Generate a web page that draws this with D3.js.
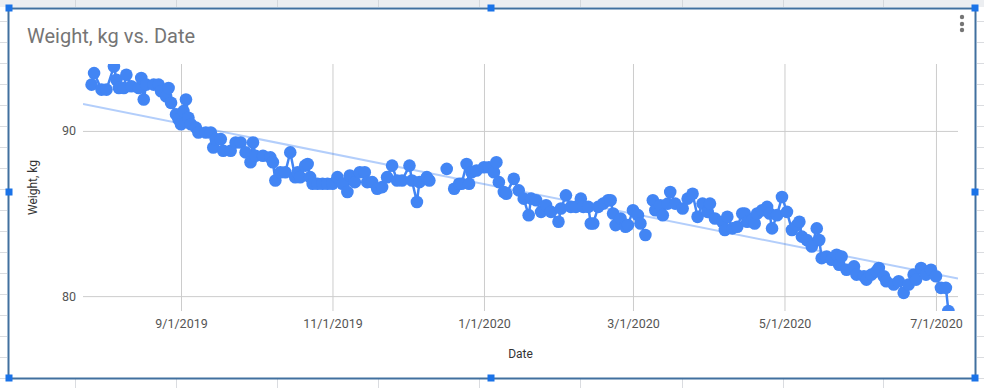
<!DOCTYPE html>
<html>
<head>
<meta charset="utf-8">
<script src="https://cdn.jsdelivr.net/npm/d3@7"></script>
<style>
  body { margin: 0; background: #fff; }
  svg { display: block; font-family: Roboto, Arial, sans-serif; }
</style>
</head>
<body>
<svg id="chart" width="984" height="388"></svg>
<script>
// dates of the weigh-ins (null weight = no line through that day)
var dates = [
  "2019-07-27","2019-07-28","2019-07-31",
  "2019-08-02","2019-08-05","2019-08-06","2019-08-07","2019-08-09","2019-08-10","2019-08-12","2019-08-15","2019-08-16","2019-08-17","2019-08-18","2019-08-21","2019-08-23","2019-08-24","2019-08-26","2019-08-27","2019-08-28","2019-08-30","2019-08-31",
  "2019-09-01","2019-09-02","2019-09-03","2019-09-04","2019-09-05","2019-09-07","2019-09-08","2019-09-11","2019-09-13","2019-09-14","2019-09-15","2019-09-17","2019-09-18","2019-09-21","2019-09-23","2019-09-25","2019-09-27","2019-09-29","2019-09-30",
  "2019-10-01","2019-10-04","2019-10-07","2019-10-08","2019-10-09","2019-10-11","2019-10-13","2019-10-15","2019-10-17","2019-10-18","2019-10-19","2019-10-21","2019-10-22","2019-10-23","2019-10-24","2019-10-26","2019-10-28","2019-10-30",
  "2019-11-01","2019-11-03","2019-11-05","2019-11-07","2019-11-08","2019-11-10","2019-11-12","2019-11-14","2019-11-15","2019-11-17","2019-11-19","2019-11-21","2019-11-23","2019-11-25","2019-11-27","2019-11-29",
  "2019-12-02","2019-12-03","2019-12-05","2019-12-06","2019-12-09","2019-12-10","2019-12-11","2019-12-17","2019-12-18","2019-12-20","2019-12-22","2019-12-23","2019-12-25","2019-12-26","2019-12-27","2019-12-29",
  "2020-01-01","2020-01-03","2020-01-05","2020-01-06","2020-01-07","2020-01-09","2020-01-10","2020-01-13","2020-01-15","2020-01-17","2020-01-19","2020-01-20","2020-01-22","2020-01-24","2020-01-26","2020-01-28","2020-01-31",
  "2020-02-01","2020-02-03","2020-02-05","2020-02-07","2020-02-09","2020-02-10","2020-02-12","2020-02-13","2020-02-14","2020-02-16","2020-02-18","2020-02-20","2020-02-21","2020-02-22","2020-02-23","2020-02-25","2020-02-27","2020-02-28",
  "2020-03-01","2020-03-03","2020-03-04","2020-03-06","2020-03-07","2020-03-09","2020-03-10","2020-03-12","2020-03-13","2020-03-15","2020-03-16","2020-03-18","2020-03-21","2020-03-23","2020-03-25","2020-03-27","2020-03-29","2020-03-31",
  "2020-04-01","2020-04-03","2020-04-06","2020-04-07","2020-04-08","2020-04-10","2020-04-12","2020-04-14","2020-04-15","2020-04-16","2020-04-18","2020-04-19","2020-04-20","2020-04-22","2020-04-24","2020-04-25","2020-04-26","2020-04-28","2020-04-30",
  "2020-05-02","2020-05-04","2020-05-06","2020-05-07","2020-05-08","2020-05-10","2020-05-12","2020-05-14","2020-05-15","2020-05-16","2020-05-18","2020-05-20","2020-05-22","2020-05-23","2020-05-24","2020-05-26","2020-05-29","2020-05-30",
  "2020-06-02","2020-06-03","2020-06-05","2020-06-07","2020-06-08","2020-06-10","2020-06-11","2020-06-14","2020-06-16","2020-06-18","2020-06-20","2020-06-22","2020-06-23","2020-06-25","2020-06-27","2020-06-29",
  "2020-07-01","2020-07-03","2020-07-05","2020-07-06"
];

var weights = [
  92.8,93.5,92.5,
  92.5,93.9,93.1,92.6,92.6,93.4,92.7,92.6,93.2,91.9,92.8,92.8,92.8,92.4,92.1,92.6,91.7,91.0,90.7,
  90.4,91.2,91.9,90.8,90.4,90.2,89.9,89.9,89.9,89.0,89.5,89.5,88.8,88.8,89.3,89.3,88.7,88.1,89.3,
  88.5,88.5,88.4,88.1,87.0,87.5,87.5,88.7,87.2,87.5,87.2,87.9,88.0,87.2,86.8,86.8,86.8,86.8,
  86.8,87.2,86.8,86.3,87.3,86.9,87.5,87.5,86.9,86.9,86.5,86.6,87.2,87.9,87.0,87.0,
  87.9,87.0,85.7,86.9,87.2,87.0,null,87.7,null,86.5,86.8,86.8,88.0,86.8,87.5,87.6,
  87.8,87.8,87.5,88.1,86.9,86.3,86.2,87.1,86.4,85.9,84.9,85.9,85.8,85.1,85.5,85.1,84.5,
  85.3,86.1,85.4,85.4,85.9,85.4,85.4,84.4,84.4,85.4,85.6,85.8,85.8,85.0,84.3,84.7,84.2,84.3,
  85.2,84.9,84.4,83.7,null,85.8,85.2,85.5,84.9,85.6,86.3,85.6,85.3,85.9,86.2,84.8,85.6,85.1,
  85.6,84.7,84.5,84.0,84.8,84.1,84.2,85.0,85.0,84.5,84.6,84.4,85.0,85.2,85.4,85.0,84.1,84.9,86.0,
  85.1,84.0,84.3,84.5,83.6,83.4,83.0,84.1,83.4,82.3,82.4,82.2,82.5,81.9,82.4,81.6,81.8,81.3,
  81.2,81.0,81.3,81.5,81.7,81.2,80.9,80.7,80.9,80.2,80.7,81.3,81.0,81.7,81.3,81.6,
  81.2,80.5,80.5,79.1
];

var xTicks = ["2019-09-01","2019-11-01","2020-01-01","2020-03-01","2020-05-01","2020-07-01"];
var yTicks = [80, 90];

var parse = d3.timeParse("%Y-%m-%d");
var data = dates.map(function(d, i) { return { date: parse(d), v: weights[i] }; });

var svg = d3.select("#chart");
var W = 984, H = 388;
var plotL = 83, plotR = 958, plotT = 64, plotB = 311;

// spreadsheet cells behind the chart
var sheet = svg.append("g");
sheet.append("rect").attr("width", W).attr("height", H).attr("fill", "#fff");
sheet.append("rect").attr("width", W).attr("height", 7).attr("fill", "#eceef1");
[75, 176, 277, 378, 479, 580, 682, 783, 883].forEach(function(cx) {
  sheet.append("line").attr("x1", cx + 0.5).attr("x2", cx + 0.5).attr("y1", 0).attr("y2", 7).attr("stroke", "#d5d8dc");
  sheet.append("line").attr("x1", cx + 0.5).attr("x2", cx + 0.5).attr("y1", 379).attr("y2", H).attr("stroke", "#dadce0");
});
d3.range(21, H, 21).forEach(function(ry) {
  sheet.append("line").attr("x1", 0).attr("x2", 7).attr("y1", ry + 0.5).attr("y2", ry + 0.5).attr("stroke", "#dadce0");
  sheet.append("line").attr("x1", 977).attr("x2", W).attr("y1", ry + 0.5).attr("y2", ry + 0.5).attr("stroke", "#dadce0");
});

// chart card + selection frame
svg.append("rect").attr("x", 9).attr("y", 9).attr("width", 966).attr("height", 369).attr("fill", "#fff");
svg.append("rect").attr("x", 8.5).attr("y", 8.5).attr("width", 967).attr("height", 370)
  .attr("fill", "none").attr("stroke", "#41709f").attr("stroke-width", 2);

svg.append("text").attr("x", 27).attr("y", 43).attr("font-size", 20).attr("fill", "#757575")
  .text("Weight, kg vs. Date");

[17, 24, 30].forEach(function(dy) {
  svg.append("circle").attr("cx", 962).attr("cy", dy).attr("r", 2.2).attr("fill", "#757575");
});

var x = d3.scaleTime()
  .domain([new Date(2019, 6, 23, 13), new Date(2020, 6, 9, 21)])
  .range([plotL, plotR]);
var y = d3.scaleLinear().domain([79.1, 94.05]).range([plotB, plotT]);

// gridlines + labels through d3 axes
var yAxis = svg.append("g").attr("transform", "translate(" + plotL + ",0)")
  .call(d3.axisLeft(y).tickValues(yTicks).tickSize(-(plotR - plotL)).tickPadding(7).tickFormat(d3.format("d")));
var xAxis = svg.append("g").attr("transform", "translate(0," + plotB + ")")
  .call(d3.axisBottom(x).tickValues(xTicks.map(parse)).tickSize(-(plotB - plotT)).tickPadding(8)
    .tickFormat(d3.timeFormat("%-m/%-d/%Y")));
[yAxis, xAxis].forEach(function(ax) {
  ax.select(".domain").remove();
  ax.selectAll(".tick line").attr("stroke", "#cccccc");
  ax.selectAll(".tick text").attr("fill", "#555").attr("font-size", 12.5)
    .attr("font-family", "Roboto, Arial, sans-serif");
});

svg.append("text").attr("x", (plotL + plotR) / 2).attr("y", 358).attr("text-anchor", "middle")
  .attr("font-size", 12).attr("fill", "#333").text("Date");
svg.append("text").attr("transform", "translate(37," + (plotT + plotB) / 2 + ") rotate(-90)")
  .attr("text-anchor", "middle").attr("font-size", 12).attr("fill", "#333").text("Weight, kg");

svg.append("clipPath").attr("id", "plot-clip").append("rect")
  .attr("x", plotL).attr("y", plotT).attr("width", plotR - plotL).attr("height", plotB - plotT);
var plot = svg.append("g").attr("clip-path", "url(#plot-clip)");

// linear trendline (least squares over the weigh-ins)
var pts = data.filter(function(d) { return d.v != null; });
var mx = d3.mean(pts, function(d) { return +d.date; });
var my = d3.mean(pts, function(d) { return d.v; });
var slope = d3.sum(pts, function(d) { return (+d.date - mx) * (d.v - my); }) /
  d3.sum(pts, function(d) { return (+d.date - mx) * (+d.date - mx); });
var ends = x.domain().map(function(t) { return { date: t, v: my + slope * (+t - mx) }; });
plot.append("path").datum(ends)
  .attr("d", d3.line().x(function(d) { return x(d.date); }).y(function(d) { return y(d.v); }))
  .attr("fill", "none").attr("stroke", "#4285f4").attr("stroke-opacity", 0.4).attr("stroke-width", 2);

plot.append("path").datum(data)
  .attr("d", d3.line().defined(function(d) { return d.v != null; })
    .x(function(d) { return x(d.date); }).y(function(d) { return y(d.v); }))
  .attr("fill", "none").attr("stroke", "#4285f4").attr("stroke-width", 2.5);

plot.selectAll("circle.pt").data(pts).enter().append("circle")
  .attr("class", "pt")
  .attr("cx", function(d) { return x(d.date); })
  .attr("cy", function(d) { return y(d.v); })
  .attr("r", 6.3)
  .attr("fill", "#4285f4");

// selection handles
[[9, 8], [491, 8], [975, 8], [9, 192], [975, 192], [9, 378], [491, 378], [975, 378]].forEach(function(p) {
  svg.append("rect").attr("x", p[0] - 3.5).attr("y", p[1] - 3.5).attr("width", 7).attr("height", 7).attr("fill", "#1a73e8");
});
</script>
</body>
</html>
